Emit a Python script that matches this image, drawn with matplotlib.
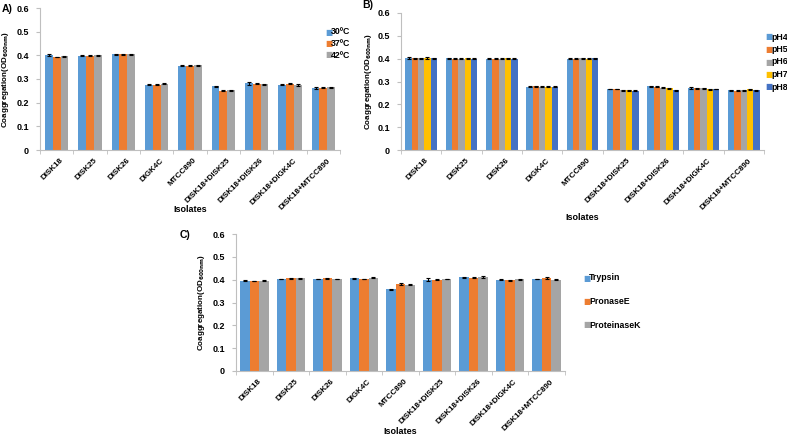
import numpy as np
import matplotlib.pyplot as plt

plt.rcParams['font.family'] = ['Liberation Sans', 'DejaVu Sans']
plt.rcParams['font.weight'] = 'bold'

isolates = ['DISK18', 'DISK25', 'DISK26', 'DIGK4C', 'MTCC890',
            'DISK18+DISK25', 'DISK18+DISK26', 'DISK18+DIGK4C', 'DISK18+MTCC890']

temp_labels = ['30ºC', '37ºC', '42ºC']
temp_vals = [
    [0.401, 0.399, 0.404, 0.276, 0.357, 0.269, 0.281, 0.276, 0.262],
    [0.393, 0.399, 0.404, 0.276, 0.356, 0.251, 0.279, 0.279, 0.263],
    [0.396, 0.400, 0.404, 0.279, 0.358, 0.252, 0.278, 0.274, 0.266],
]
temp_err = [
    [0.003, 0.003, 0.002, 0.002, 0.002, 0.002, 0.005, 0.002, 0.003],
    [0.002, 0.002, 0.002, 0.002, 0.002, 0.002, 0.002, 0.002, 0.002],
    [0.002, 0.002, 0.002, 0.002, 0.002, 0.002, 0.002, 0.004, 0.002],
]

ph_labels = ['pH4', 'pH5', 'pH6', 'pH7', 'pH8']
ph_vals = [
    [0.403, 0.401, 0.400, 0.278, 0.400, 0.267, 0.279, 0.272, 0.261],
    [0.401, 0.400, 0.400, 0.279, 0.400, 0.267, 0.278, 0.270, 0.260],
    [0.401, 0.400, 0.400, 0.278, 0.402, 0.262, 0.272, 0.270, 0.261],
    [0.403, 0.401, 0.402, 0.278, 0.399, 0.261, 0.270, 0.266, 0.265],
    [0.402, 0.399, 0.400, 0.278, 0.401, 0.259, 0.262, 0.267, 0.262],
]
ph_err = [
    [0.003, 0.002, 0.002, 0.002, 0.002, 0.002, 0.002, 0.003, 0.002],
    [0.002, 0.002, 0.002, 0.002, 0.002, 0.002, 0.002, 0.002, 0.002],
    [0.002, 0.002, 0.002, 0.002, 0.002, 0.002, 0.002, 0.002, 0.002],
    [0.004, 0.002, 0.002, 0.002, 0.002, 0.002, 0.002, 0.002, 0.003],
    [0.002, 0.002, 0.002, 0.002, 0.004, 0.002, 0.002, 0.002, 0.002],
]

enz_labels = ['Trypsin', 'PronaseE', 'ProteinaseK']
enz_vals = [
    [0.395, 0.403, 0.403, 0.406, 0.358, 0.400, 0.411, 0.400, 0.403],
    [0.394, 0.406, 0.406, 0.403, 0.381, 0.400, 0.409, 0.397, 0.406],
    [0.396, 0.406, 0.403, 0.409, 0.377, 0.403, 0.410, 0.401, 0.400],
]
enz_err = [
    [0.002, 0.002, 0.002, 0.002, 0.002, 0.006, 0.002, 0.002, 0.002],
    [0.002, 0.002, 0.002, 0.002, 0.005, 0.002, 0.002, 0.002, 0.005],
    [0.002, 0.002, 0.002, 0.002, 0.002, 0.002, 0.004, 0.002, 0.002],
]

colors = ['#5B9BD5', '#ED7D31', '#A5A5A5', '#FFC000', '#4472C4']

W, H = 787, 438
fig = plt.figure(figsize=(W / 100, H / 100), dpi=100)


def panel(rect, vals, errs, labels, group_w, letter, letter_xy, ylab_x, xlab_y,
          leg_xy, leg_spacing):
    l, t, r, b = rect
    ax = fig.add_axes([l / W, 1 - b / H, (r - l) / W, (b - t) / H])
    n = len(vals)
    x = np.arange(len(isolates))
    w = group_w / n
    for i in range(n):
        ax.bar(x - group_w / 2 + w * (i + 0.5), vals[i], w, color=colors[i],
               yerr=errs[i], error_kw=dict(ecolor='black', elinewidth=0.8,
                                           capsize=1.5, capthick=0.8),
               label=labels[i])
    ax.set_xlim(-0.5, len(isolates) - 0.5)
    ax.set_ylim(0, 0.6)
    ax.set_yticks(np.arange(0, 0.61, 0.1))
    ax.set_yticklabels(['0', '0.1', '0.2', '0.3', '0.4', '0.5', '0.6'],
                       fontsize=6.5, weight='bold')
    ax.set_xticks(x + 0.1)
    ax.set_xticklabels(isolates, rotation=45, ha='right', rotation_mode='anchor',
                       fontsize=5.8, weight='bold')
    ax.set_xticks(np.arange(-0.5, len(isolates)), minor=True)
    ax.tick_params(axis='x', which='major', length=0, pad=5)
    ax.tick_params(axis='x', which='minor', length=3, color='#BFBFBF')
    ax.tick_params(axis='y', length=3, color='#BFBFBF', pad=5)
    for s in ['top', 'right']:
        ax.spines[s].set_visible(False)
    for s in ['left', 'bottom']:
        ax.spines[s].set_color('#BFBFBF')
        ax.spines[s].set_linewidth(0.8)
    fig.text(ylab_x / W, 1 - (t + b) / 2 / H, 'Coaggregation(OD$_{\\mathbf{600nm}}$)',
             rotation=90, ha='center', va='center', fontsize=5.8, weight='bold')
    fig.text((l + r) / 2 / W, 1 - xlab_y / H, 'Isolates', ha='center', va='center',
             fontsize=6.5, weight='bold')
    fig.text(letter_xy[0] / W, 1 - letter_xy[1] / H, letter, ha='left', va='center',
             fontsize=7.5, weight='bold')
    for i in range(n):
        fig.text(leg_xy[0] / W, 1 - (leg_xy[1] + i * leg_spacing) / H, '■',
                 color=colors[i], ha='left', va='center', fontsize=5.5,
                 family=['DejaVu Sans'])
        fig.text((leg_xy[0] + 6) / W, 1 - (leg_xy[1] + i * leg_spacing) / H,
                 labels[i], ha='left', va='center', fontsize=6.3, weight='bold')
    return ax


panel((40, 8, 340, 150), temp_vals, temp_err, temp_labels, 0.7, 'A)', (2, 9), 6, 209,
      (325, 32), 11.5)
panel((401, 13, 764, 150), ph_vals, ph_err, ph_labels, 0.78, 'B)', (362, 5), 368, 218,
      (765, 37), 12.5)
panel((236, 234, 565, 371), enz_vals, enz_err, enz_labels, 0.78, 'C)', (180, 235), 202, 432,
      (583, 278), 23.5)

fig.savefig('out.png', dpi=100)
